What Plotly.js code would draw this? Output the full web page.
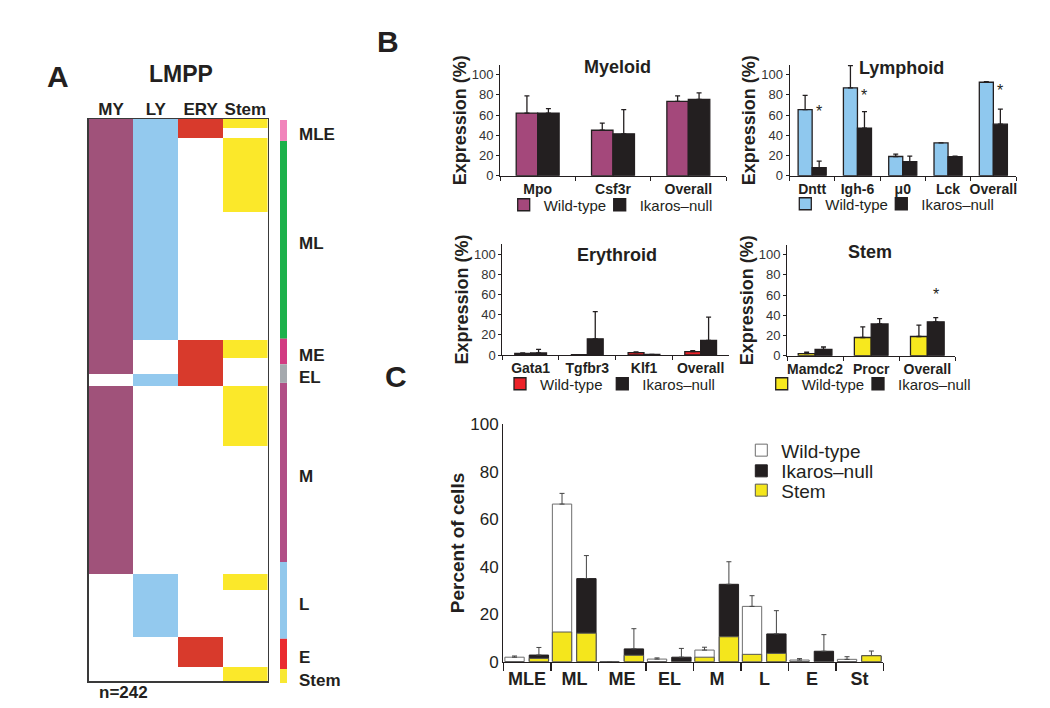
<!DOCTYPE html>
<html>
<head>
<meta charset="utf-8">
<script src="https://cdn.plot.ly/plotly-3.0.1.min.js"></script>
<style>
  html, body { margin: 0; padding: 0; background: #fff; }
  #fig { width: 1050px; height: 708px; }
</style>
</head>
<body>
<div id="fig"></div>
<script>
// LMPP lineage figure: A = single-cell heatmap, B = expression bars, C = percent of cells

// ---- A: heatmap groups (rows from top to bottom) ----
const hmColumns = ['MY', 'LY', 'ERY', 'Stem'];
const hmGroupSizes = [4, 4, 32, 55, 8, 7, 5, 26, 55, 7, 20, 13, 6];
// 1 = lineage detected in that column
const hmGroupFlags = [
  [1, 1, 1, 1], [1, 1, 1, 0], [1, 1, 0, 1], [1, 1, 0, 0],
  [1, 0, 1, 1], [1, 0, 1, 0], [0, 1, 1, 0], [1, 0, 0, 1],
  [1, 0, 0, 0], [0, 1, 0, 1], [0, 1, 0, 0], [0, 0, 1, 0], [0, 0, 0, 1]
];
const sideLabels = ['MLE', 'ML', 'ME', 'EL', 'M', 'L', 'E', 'Stem'];
const sideSizes = [9, 85, 11, 8, 77, 33, 13, 6];

// ---- B: expression (%) ----
const myeGenes = ['Mpo', 'Csf3r', 'Overall'];
const myeWT = [62, 45, 73.5];
const myeWTErr = [17, 7, 5.5];
const myeKO = [62, 41.5, 75.5];
const myeKOErr = [4.5, 24, 6.5];

const lymGenes = ['Dntt', 'Igh-6', 'μ0', 'Lck', 'Overall'];
const lymWT = [65.5, 87, 19, 32.5, 92.5];
const lymWTErr = [14, 22, 2.3, 0, 0.7];
const lymKO = [8, 47, 14, 18.8, 51];
const lymKOErr = [6.5, 16.5, 5.3, 0.6, 15];
const lymStars = ['Dntt', 'Igh-6', 'Overall'];
const lymStarY = [67, 82, 87];

const eryGenes = ['Gata1', 'Tgfbr3', 'Klf1', 'Overall'];
const eryWT = [1.5, 0.3, 2.3, 3.3];
const eryWTErr = [0.6, 0, 0.8, 1];
const eryKO = [2, 16, 0.5, 14.5];
const eryKOErr = [3.5, 27, 0, 23];

const stemGenes = ['Mamdc2', 'Procr', 'Overall'];
const stemWT = [2, 18, 19];
const stemWTErr = [1.4, 10.5, 11.3];
const stemKO = [6.3, 31.5, 33.5];
const stemKOErr = [2.3, 5.2, 4.2];
const stemStars = ['Overall'];
const stemStarY = [63.5];

// ---- C: percent of cells ----
const cCats = ['MLE', 'ML', 'ME', 'EL', 'M', 'L', 'E', 'St'];
const cWT = [1.9, 66.4, 0, 1.1, 4.9, 23.3, 0.7, 1];
const cWTErr = [0.5, 4.5, 0, 0.5, 1.2, 4.5, 0.6, 1.1];
const cKO = [2.8, 35, 5.4, 1.9, 32.6, 11.7, 4.4, 2.5];
const cKOErr = [3.2, 9.7, 8.5, 3.7, 9.5, 9.8, 7, 2];
const cWTStem = [0, 12.5, 0, 0, 1.9, 3.1, 0, 0];
const cKOStem = [1.4, 12, 2.7, 0, 10.5, 3.5, 0, 2.5];

// ---- styles ----
const FONT = 'Liberation Sans, Arial, sans-serif';
const INK = '#231f20';
const C_MY = '#a0527a', C_LY = '#93c9ee', C_ERY = '#d83a2c', C_STEM = '#fbe82a';
const sideColors = ['#f184bb', '#1cb14b', '#d23b82', '#a5a9ae', '#b14f86', '#92c8ec', '#ea2a2f', '#f8e833'];
const W = 1050, H = 708;
const px = v => v / W;
const py = v => 1 - v / H;

// heatmap matrix
const hmZ = [];
hmGroupSizes.forEach((n, g) => {
  for (let i = 0; i < n; i++) {
    hmZ.push(hmGroupFlags[g].map((f, c) => f ? c + 1 : 0));
  }
});
const hmRows = hmZ.map((_, i) => i);

const sideBase = [];
sideSizes.reduce((acc, s) => { sideBase.push(acc); return acc + s; }, 0);

const traces = [];
traces.push({
  type: 'heatmap', x: hmColumns, y: hmRows, z: hmZ, xaxis: 'x', yaxis: 'y',
  zmin: 0, zmax: 4, showscale: false, hoverinfo: 'skip',
  colorscale: [
    [0, '#ffffff'], [0.125, '#ffffff'], [0.125, C_MY], [0.375, C_MY],
    [0.375, C_LY], [0.625, C_LY], [0.625, C_ERY], [0.875, C_ERY],
    [0.875, C_STEM], [1, C_STEM]
  ]
});
traces.push({
  type: 'bar', x: sideSizes.map(() => 0), y: sideSizes, base: sideBase, width: 1,
  xaxis: 'x2', yaxis: 'y2', showlegend: false, hoverinfo: 'skip',
  marker: { color: sideColors, line: { width: 0 } }
});

function errY(arr, color, thick, w) {
  return { type: 'data', symmetric: false, array: arr, arrayminus: arr.map(() => 0), color: color, thickness: thick, width: w };
}

// one legend per entry so each swatch can sit where the figure has it
function panelB(n, genes, wt, wtErr, ko, koErr, wtColor, bw, lgWT, lgKO) {
  const common = { type: 'bar', x: genes, xaxis: 'x' + n, yaxis: 'y' + n, width: bw, hoverinfo: 'skip' };
  traces.push(Object.assign({}, common, {
    y: wt, offset: -bw, name: 'Wild-type', legend: lgWT,
    marker: { color: wtColor, line: { color: INK, width: 1.3 } },
    error_y: errY(wtErr, INK, 1.3, 2.5)
  }));
  traces.push(Object.assign({}, common, {
    y: ko, offset: 0, name: 'Ikaros–null', legend: lgKO,
    marker: { color: INK, line: { color: INK, width: 1.3 } },
    error_y: errY(koErr, INK, 1.3, 2.5)
  }));
}
panelB(3, myeGenes, myeWT, myeWTErr, myeKO, myeKOErr, '#a4487b', 0.285, 'legend4', 'legend5');
panelB(4, lymGenes, lymWT, lymWTErr, lymKO, lymKOErr, '#8fc8ee', 0.31, 'legend6', 'legend7');
panelB(5, eryGenes, eryWT, eryWTErr, eryKO, eryKOErr, '#ec2229', 0.28, 'legend8', 'legend9');
panelB(6, stemGenes, stemWT, stemWTErr, stemKO, stemKOErr, '#f7e81e', 0.3, 'legend10', 'legend11');

// panel C: totals then stem part drawn over the bottom
const cW = 0.407, cOffWT = -0.467, cOffKO = 0.046;
const cCommon = { type: 'bar', x: cCats, xaxis: 'x7', yaxis: 'y7', width: cW, hoverinfo: 'skip' };
traces.push(Object.assign({}, cCommon, {
  y: cWT, offset: cOffWT, name: 'Wild-type', legend: 'legend',
  marker: { color: '#ffffff', line: { color: '#6d6d6d', width: 1 } },
  error_y: errY(cWTErr, '#444', 1, 2.5)
}));
traces.push(Object.assign({}, cCommon, {
  y: cKO, offset: cOffKO, name: 'Ikaros–null', legend: 'legend2',
  marker: { color: INK, line: { color: INK, width: 1 } },
  error_y: errY(cKOErr, '#444', 1, 2.5)
}));
traces.push(Object.assign({}, cCommon, {
  y: cWTStem, offset: cOffWT, name: 'Stem', legend: 'legend3',
  marker: { color: '#f4e61c', line: { color: '#555', width: 1 } }
}));
traces.push(Object.assign({}, cCommon, {
  y: cKOStem, offset: cOffKO, name: 'Stem', showlegend: false,
  marker: { color: '#f4e61c', line: { color: '#555', width: 1 } }
}));

// ---- axes ----
function bx(x0, x1, n, anchor) {
  return {
    domain: [px(x0), px(x1)], anchor: anchor, type: 'category', range: [-0.5, n - 0.5],
    showline: true, linecolor: INK, linewidth: 1, ticks: 'outside', tickson: 'boundaries',
    ticklen: 4, tickcolor: INK, tickangle: 0, showgrid: false, zeroline: false, fixedrange: true,
    tickfont: { family: FONT, size: 14, weight: 700, color: INK }
  };
}
function by(y0, y1, anchor) {
  return {
    domain: [py(y0), py(y1)], anchor: anchor, range: [0, 110], tickvals: [0, 20, 40, 60, 80, 100],
    showline: true, linecolor: INK, linewidth: 1, ticks: 'outside', ticklen: 3, tickcolor: INK,
    showgrid: false, zeroline: false, fixedrange: true,
    tickfont: { family: FONT, size: 13, color: '#333' },
    title: { text: 'Expression (%)', standoff: 0, font: { family: FONT, size: 18, weight: 700, color: INK } }
  };
}

// plotly puts the swatch ~14px in from legend.x and the text ~39px in
function lg(symLeft, yMid, size, dx) {
  return {
    x: px(symLeft + dx), y: py(yMid), xanchor: 'left', yanchor: 'middle', orientation: 'h',
    bgcolor: 'rgba(0,0,0,0)', itemwidth: 30, itemclick: false, itemdoubleclick: false,
    font: { family: FONT, size: size, color: INK }
  };
}

const annotations = [];
function note(text, x, y, size, extra) {
  annotations.push(Object.assign({
    text: text, xref: 'paper', yref: 'paper', x: px(x), y: py(y), showarrow: false,
    xanchor: 'center', yanchor: 'middle', font: { family: FONT, size: size, weight: 700, color: INK }
  }, extra || {}));
}
note('A', 58, 76, 30);
note('B', 388, 42, 30);
note('C', 396, 377, 30);
note('LMPP', 181, 74, 23);
note('n=242', 97, 692, 17, { xanchor: 'left' });
note('Myeloid', 617, 67, 18);
note('Lymphoid', 901, 68, 18);
note('Erythroid', 617, 255, 18);
note('Stem', 870, 252, 18);

sideLabels.forEach((lab, i) => {
  annotations.push({
    text: lab, xref: 'paper', yref: 'y2', x: px(297), y: sideBase[i] + sideSizes[i] / 2,
    xanchor: 'left', yanchor: 'middle', yshift: -4, showarrow: false,
    font: { family: FONT, size: 17, weight: 700, color: INK }
  });
});

function stars(cats, ys, allCats, axisN, bw) {
  cats.forEach((c, i) => {
    annotations.push({
      text: '*', xref: 'x' + axisN, yref: 'y' + axisN, x: allCats.indexOf(c) + bw / 2, y: ys[i],
      showarrow: false, xanchor: 'center', yanchor: 'middle', yshift: -3,
      font: { family: FONT, size: 16, color: INK }
    });
  });
}
stars(lymStars, lymStarY, lymGenes, 4, 0.31);
stars(stemStars, stemStarY, stemGenes, 6, 0.3);

const layout = {
  width: W, height: H, margin: { l: 0, r: 0, t: 0, b: 0 },
  paper_bgcolor: '#fff', plot_bgcolor: 'rgba(0,0,0,0)',
  barmode: 'overlay', hovermode: false, showlegend: true,
  font: { family: FONT, color: INK },
  xaxis: {
    domain: [px(88.7), px(267.7)], anchor: 'y', side: 'top', type: 'category',
    showline: true, mirror: true, linecolor: '#3a3a3a', linewidth: 1.5, ticks: '',
    ticklabelstandoff: -4, showgrid: false, zeroline: false, fixedrange: true,
    tickfont: { family: FONT, size: 17, weight: 700, color: INK }
  },
  yaxis: {
    domain: [py(681), py(119)], anchor: 'x', range: [241.5, -0.5],
    showline: true, mirror: true, linecolor: '#3a3a3a', linewidth: 1.5,
    showticklabels: false, ticks: '', showgrid: false, zeroline: false, fixedrange: true
  },
  xaxis2: { domain: [px(280), px(287)], anchor: 'y2', range: [-0.5, 0.5], visible: false, fixedrange: true },
  yaxis2: { domain: [py(683), py(120)], anchor: 'x2', range: [242, 0], visible: false, fixedrange: true },
  xaxis3: bx(500, 726, myeGenes.length, 'y3'),
  yaxis3: by(175.7, 64.6, 'x3'),
  xaxis4: bx(789.5, 1016, lymGenes.length, 'y4'),
  yaxis4: by(175.7, 64.6, 'x4'),
  xaxis5: bx(502.3, 729, eryGenes.length, 'y5'),
  yaxis5: by(355, 243.9, 'x5'),
  xaxis6: bx(787, 955.4, stemGenes.length, 'y6'),
  yaxis6: by(355.7, 244.6, 'x6'),
  xaxis7: {
    domain: [px(503.3), px(883.3)], anchor: 'y7', type: 'category', range: [-0.5, cCats.length - 0.5],
    showline: true, linecolor: INK, linewidth: 1.2, ticks: 'outside', tickson: 'boundaries',
    ticklen: 8, tickwidth: 1.5, tickcolor: INK, tickangle: 0, showgrid: false, zeroline: false, fixedrange: true,
    tickfont: { family: FONT, size: 18, weight: 700, color: INK }
  },
  yaxis7: {
    domain: [py(661.7), py(424.3)], anchor: 'x7', range: [0, 100], dtick: 20,
    showline: true, linecolor: INK, linewidth: 1.2, ticks: '', showgrid: false, zeroline: false,
    fixedrange: true, tickfont: { family: FONT, size: 17, color: INK },
    title: { text: 'Percent of cells', standoff: 0, font: { family: FONT, size: 19, weight: 700, color: INK } }
  },
  legend: lg(759.3, 450.3, 19, -18),
  legend2: lg(759.3, 471, 19, -18),
  legend3: lg(759.3, 490.3, 19, -18),
  legend4: lg(527.7, 205, 15, -24),
  legend5: lg(611.7, 205, 15, -12),
  legend6: lg(809.3, 204, 15, -24),
  legend7: lg(893.3, 204, 15, -12),
  legend8: lg(524, 384, 15, -24),
  legend9: lg(614.3, 384, 15, -12),
  legend10: lg(785.7, 384, 15, -24),
  legend11: lg(870, 384, 15, -12),
  annotations: annotations
};

Plotly.newPlot('fig', traces, layout, { displayModeBar: false, staticPlot: true });
</script>
</body>
</html>
